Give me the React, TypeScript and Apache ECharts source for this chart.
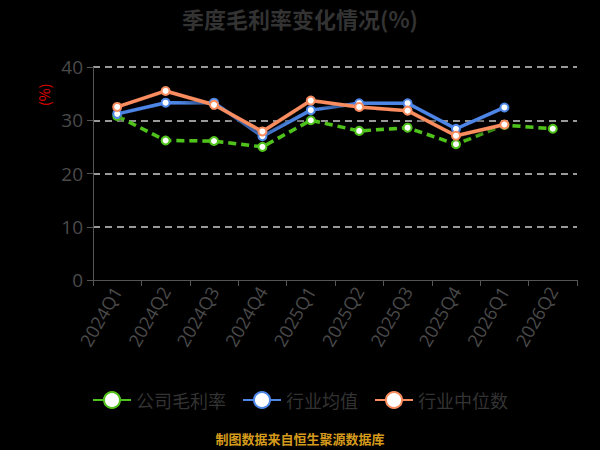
import React, { useEffect, useRef } from "react";
import * as echarts from "echarts";

const categories = ["2024Q1", "2024Q2", "2024Q3", "2024Q4", "2025Q1", "2025Q2", "2025Q3", "2025Q4", "2026Q1", "2026Q2"];
const companyMargin = [30.8, 26.2, 26.1, 25.0, 30.0, 28.0, 28.6, 25.5, 29.1, 28.4];
const industryAvg = [31.2, 33.3, 33.3, 27.0, 31.9, 33.2, 33.2, 28.4, 32.4, null];
const industryMedian = [32.5, 35.5, 32.9, 27.9, 33.7, 32.5, 31.8, 27.1, 29.2, null];
const yTicks = [0, 10, 20, 30, 40];

const GREEN = "#4fc21c";
const BLUE = "#4e86e6";
const ORANGE = "#f98d5f";

export default function App() {
  const ref = useRef<HTMLDivElement>(null);
  useEffect(() => {
    document.body.style.margin = "0";
    document.body.style.background = "#000";
    const chart = echarts.init(ref.current!, null, { renderer: "svg" });
    const mkSeries = (name: string, data: any[], color: string, dashed: boolean) => ({
      name,
      type: "line",
      data,
      symbol: "circle",
      symbolSize: 8,
      connectNulls: false,
      lineStyle: { color, width: 3.5, type: dashed ? [8, 5] : "solid", shadowColor: "rgba(0,0,0,0.6)", shadowBlur: 4, shadowOffsetY: 2 },
      itemStyle: { color: "#fff", borderColor: color, borderWidth: 2 },
      z: dashed ? 1 : 2,
    });
    chart.setOption({
      animation: false,
      backgroundColor: "#000",
      title: {
        text: "季度毛利率变化情况(%)",
        left: "center",
        top: 2,
        textStyle: { color: "#333", fontSize: 22, fontWeight: "bold", fontFamily: "Noto Sans CJK SC" },
      },
      color: [GREEN, BLUE, ORANGE],
      legend: {
        bottom: 36,
        left: "center",
        itemWidth: 38,
        itemHeight: 20,
        itemGap: 16,
        textStyle: { color: "#333", fontSize: 18, fontFamily: "Noto Sans CJK SC" },
        data: [
          { name: "公司毛利率", itemStyle: { color: "#fff", borderColor: GREEN, borderWidth: 2 }, lineStyle: { color: GREEN, width: 2, type: "solid" } },
          { name: "行业均值", itemStyle: { color: "#fff", borderColor: BLUE, borderWidth: 2 }, lineStyle: { color: BLUE, width: 2 } },
          { name: "行业中位数", itemStyle: { color: "#fff", borderColor: ORANGE, borderWidth: 2 }, lineStyle: { color: ORANGE, width: 2 } },
        ],
      },
      grid: { left: 93, right: 23, top: 67, bottom: 170 },
      xAxis: {
        type: "category",
        data: categories,
        boundaryGap: true,
        axisLine: { lineStyle: { color: "#555" } },
        axisTick: { show: true, lineStyle: { color: "#555" }, length: 6 },
        axisLabel: { color: "#4a4a4a", fontSize: 18, rotate: 60, margin: 8, fontFamily: "Open Sans" },
      },
      yAxis: {
        type: "value",
        min: yTicks[0],
        max: yTicks[yTicks.length - 1],
        interval: 10,
        axisLine: { show: true, lineStyle: { color: "#555" } },
        axisTick: { show: true, lineStyle: { color: "#555" }, length: 6 },
        axisLabel: { color: "#4a4a4a", fontSize: 19, margin: 10, fontFamily: "Open Sans" },
        splitLine: { show: true, lineStyle: { color: ["rgba(0,0,0,0)", "#ccc", "#ccc", "#ccc", "#ccc"], type: [7, 5], width: 1.5 } },
      },
      graphic: [
        {
          type: "text",
          x: 37,
          y: 106,
          rotation: Math.PI / 2,
          style: { text: "(%)", fill: "#e00", fontSize: 14, fontFamily: "Noto Sans CJK SC" },
        },
        {
          type: "text",
          left: "center",
          top: 432,
          style: { text: "制图数据来自恒生聚源数据库", fill: "#d49a1c", fontSize: 13, fontWeight: "bold", fontFamily: "Noto Sans CJK SC" },
        },
      ],
      series: [
        mkSeries("公司毛利率", companyMargin, GREEN, true),
        mkSeries("行业均值", industryAvg, BLUE, false),
        mkSeries("行业中位数", industryMedian, ORANGE, false),
      ],
    });
    return () => chart.dispose();
  }, []);
  return <div ref={ref} style={{ width: 600, height: 450, background: "#000" }} />;
}
